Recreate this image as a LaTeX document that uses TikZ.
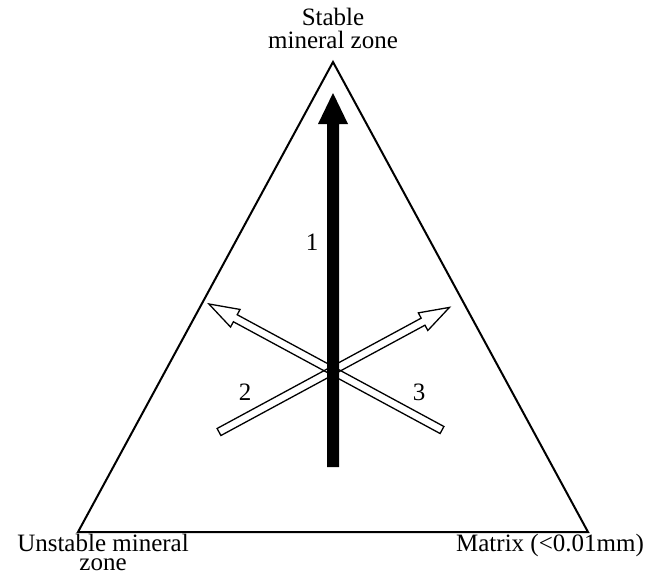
\documentclass[tikz,border=0pt]{standalone}
\usepackage{fontspec}
\setmainfont{Liberation Serif}
\begin{document}
\begin{tikzpicture}[x=1pt,y=-1pt,
  lbl/.style={font=\fontsize{25}{26}\selectfont, inner sep=0pt, anchor=base},
  tri/.style={line width=2pt, line join=miter},
  hollow/.style={line width=1.3pt, line join=miter, fill=none}]
\useasboundingbox (0,0) rectangle (661,574);
\coordinate (A) at (333,62);
\coordinate (B) at (78,532);
\coordinate (C) at (588,532);
\draw[tri] (A) -- (B) -- (C) -- cycle;
% labels
\node[lbl] (top1) at (333,25) {Stable};
\node[lbl] (top2) at (333,48) {mineral zone};
\node[lbl] (left1) at (103,551) {Unstable mineral};
\node[lbl] (left2) at (103,570) {zone};
\node[lbl] (right) at (550,551) {Matrix (<0.01mm)};
% hollow arrow 2
\begin{scope}[shift={(219,432)}, rotate=28.4]
  \draw[hollow] (0,-4) -- (232,-4) -- (232,-10) -- (262,0) -- (232,10) -- (232,4) -- (0,4) -- cycle;
\end{scope}
% hollow arrow 3
\begin{scope}[shift={(442,430)}, rotate=151.6]
  \draw[hollow] (0,-4) -- (235,-4) -- (235,-10) -- (265,0) -- (235,10) -- (235,4) -- (0,4) -- cycle;
\end{scope}
% black arrow 1
\coordinate (s1) at (333,467);
\coordinate (t1) at (333,93);
\fill (327,467) -- (327,124) -- (318,124) -- (t1) -- (348,124) -- (339,124) -- (339,467) -- cycle;
\node[lbl] (n1) at (312,250) {1};
\node[lbl] (n2) at (245,400) {2};
\node[lbl] (n3) at (419,400) {3};
\end{tikzpicture}
\end{document}
